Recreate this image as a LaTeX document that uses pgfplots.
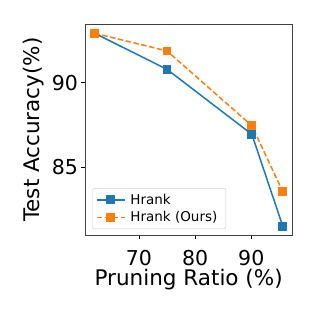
\documentclass[border=0pt]{standalone}
\usepackage{pgfplots}
\pgfplotsset{compat=1.18}
\usepackage{fontspec}
\setmainfont{DejaVu Sans}
\definecolor{tabblue}{HTML}{1F77B4}
\definecolor{taborange}{HTML}{FF7F0E}
\begin{document}
\begin{tikzpicture}[x=1pt,y=1pt]
\path[use as bounding box] (-85,-81) rectangle (231,235);
\begin{axis}[at={(0,0)}, anchor=south west, scale only axis,
  width=207.3pt, height=210.7pt,
  xmin=60.4, xmax=97.3, ymin=80.97, ymax=93.46,
  xtick={70,80,90}, ytick={85,90},
  tick align=outside, tick pos=left, major tick length=3.5pt,
  axis line style={black!75, line width=0.8pt},
  tick style={black, line width=0.8pt},
  /pgf/number format/assume math mode=true,
  tick label style={font=\fontsize{20.5}{24}\selectfont},
  xticklabel style={yshift=-8pt},
  xlabel={Pruning Ratio (\%)}, ylabel={Test Accuracy(\%)},
  label style={font=\fontsize{21.5}{25}\selectfont},
  xlabel style={yshift=3pt},
  ylabel style={yshift=1pt},
  legend style={at={(0.035,0.028)}, anchor=south west,
    font=\fontsize{13.5}{15}\selectfont, draw=black!20, rounded corners=2pt,
    row sep=2pt, inner sep=3.5pt, nodes={inner xsep=5pt}},
  legend cell align=left,
  legend image code/.code={
    \draw[mark repeat=2,mark phase=2] plot coordinates {(0pt,0pt) (14pt,0pt) (28pt,0pt)};},
]
\addplot[tabblue, line width=1.5pt, mark=square*, mark size=3.7pt, mark options={solid}]
  coordinates {(62.1,92.93) (75,90.79) (90.1,86.94) (95.6,81.5)};
\addlegendentry{Hrank}
\addplot[taborange, line width=1.5pt, dashed, dash pattern=on 5.5pt off 2.5pt, mark=square*, mark size=3.7pt, mark options={solid}]
  coordinates {(62.1,92.93) (75,91.88) (90.1,87.45) (95.6,83.54)};
\addlegendentry{Hrank (Ours)}
\end{axis}
\end{tikzpicture}
\end{document}
